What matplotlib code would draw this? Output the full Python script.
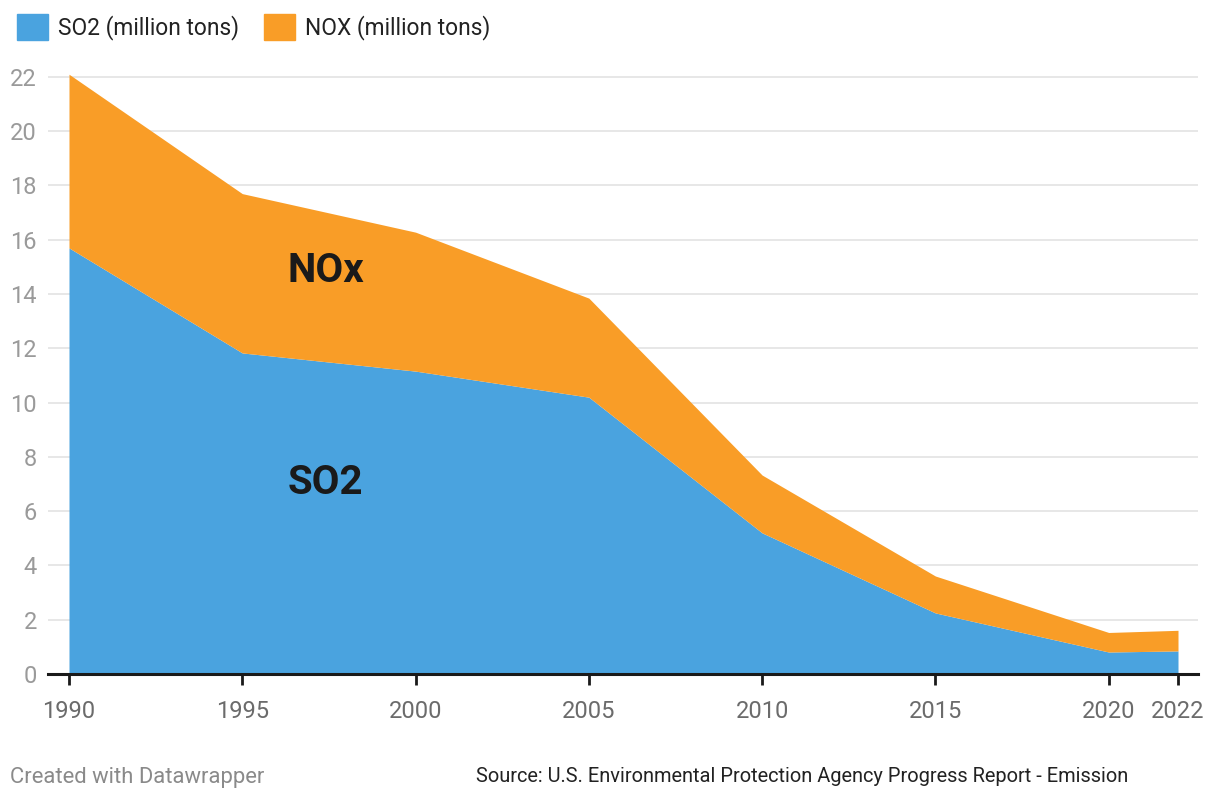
import numpy as np
import matplotlib.pyplot as plt
from matplotlib.patches import Patch

plt.rcParams['font.family'] = ['Roboto', 'DejaVu Sans']

# values (million tons)
years = [1990, 1995, 2000, 2005, 2010, 2015, 2020, 2022]
so2 = [15.7, 11.83, 11.16, 10.2, 5.2, 2.25, 0.81, 0.85]
nox = [6.4, 5.87, 5.12, 3.65, 2.13, 1.36, 0.72, 0.76]
y_ticks = [0, 2, 4, 6, 8, 10, 12, 14, 16, 18, 20, 22]

blue = '#4aa3df'
orange = '#f99d27'

fig = plt.figure(figsize=(12.2, 8), dpi=100)
ax = fig.add_axes([48 / 1220, 1 - 674 / 800, 1150 / 1220, (674 - 71.5) / 800])

so2 = np.array(so2)
nox = np.array(nox)
ax.fill_between(years, 0, so2, color=blue, linewidth=0, zorder=2)
ax.fill_between(years, so2, so2 + nox, color=orange, linewidth=0, zorder=2)

ax.set_xlim(1990 - 21 / 34.66, 2022 + 20 / 34.66)
ax.set_ylim(0, 22.2)

ax.set_yticks(y_ticks)
for t in y_ticks[1:]:
    ax.axhline(t, color='#e3e3e3', lw=1.2, zorder=1)
ax.set_xticks(years)

for s in ['top', 'right', 'left']:
    ax.spines[s].set_visible(False)
ax.spines['bottom'].set_color('#1a1a1a')
ax.spines['bottom'].set_linewidth(2.2)
ax.spines['bottom'].set_zorder(3)

ax.tick_params(axis='y', length=0, pad=8, labelsize=17, labelcolor='#9a9a9a')
ax.tick_params(axis='x', length=8, width=2, color='#1a1a1a', pad=11,
               labelsize=17, labelcolor='#6b6b6b')

ax.text(1997.4, 14.85, 'NOx', fontsize=29, fontweight='bold', color='#1a1a1a',
        ha='center', va='center', zorder=4)
ax.text(1997.4, 7.05, 'SO2', fontsize=29, fontweight='bold', color='#1a1a1a',
        ha='center', va='center', zorder=4)

handles = [Patch(color=blue, label='SO2 (million tons)'),
           Patch(color=orange, label='NOX (million tons)')]
fig.legend(handles=handles, loc='upper left', bbox_to_anchor=(-0.003, 1.008),
           ncol=2, frameon=False, fontsize=16.4, handlelength=1.35,
           handleheight=1.35, handletextpad=0.45, columnspacing=1.1,
           labelcolor='#222222')

fig.text(10 / 1220, 1 - 777 / 800, 'Created with Datawrapper', fontsize=15.8,
         color='#8a8a8a', va='center')
fig.text(1128 / 1220, 1 - 777 / 800,
         'Source: U.S. Environmental Protection Agency Progress Report - Emission',
         fontsize=14.4, color='#222222', va='center', ha='right')

fig.savefig('out.png', dpi=100)
